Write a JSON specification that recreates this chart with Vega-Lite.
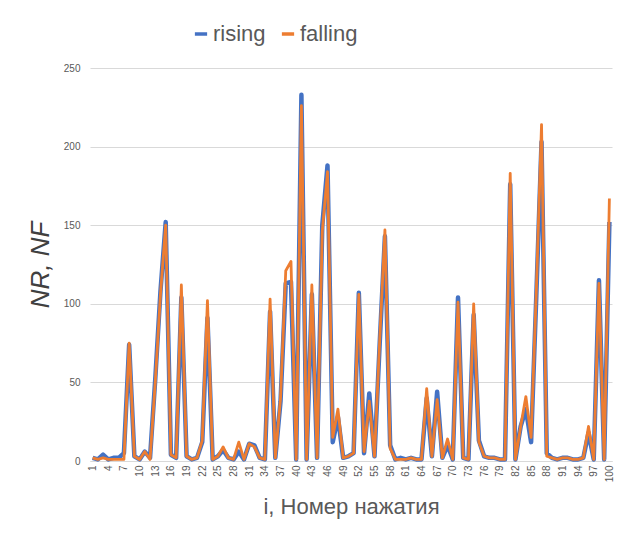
{
  "$schema": "https://vega.github.io/schema/vega-lite/v6.json",
  "width": 522,
  "height": 393,
  "autosize": "none",
  "padding": {"left": 90, "top": 68, "right": 20, "bottom": 72},
  "background": "white",
  "config": {"view": {"stroke": null}, "font": "Liberation Sans"},
  "data": {"values": [
    {"i":1,"rising":2,"falling":2},{"i":2,"rising":1,"falling":1},{"i":3,"rising":4,"falling":2},{"i":4,"rising":1,"falling":1},{"i":5,"rising":2,"falling":1},
    {"i":6,"rising":2,"falling":1},{"i":7,"rising":5,"falling":1},{"i":8,"rising":74,"falling":75},{"i":9,"rising":3,"falling":3},{"i":10,"rising":1,"falling":1},
    {"i":11,"rising":6,"falling":6},{"i":12,"rising":2,"falling":1},{"i":13,"rising":52,"falling":50},{"i":14,"rising":108,"falling":106},{"i":15,"rising":152,"falling":150},
    {"i":16,"rising":4,"falling":4},{"i":17,"rising":2,"falling":2},{"i":18,"rising":104,"falling":112},{"i":19,"rising":3,"falling":3},{"i":20,"rising":1,"falling":1},
    {"i":21,"rising":2,"falling":2},{"i":22,"rising":12,"falling":13},{"i":23,"rising":91,"falling":102},{"i":24,"rising":1,"falling":1},{"i":25,"rising":3,"falling":3},
    {"i":26,"rising":7,"falling":9},{"i":27,"rising":2,"falling":2},{"i":28,"rising":1,"falling":1},{"i":29,"rising":6,"falling":12},{"i":30,"rising":1,"falling":1},
    {"i":31,"rising":11,"falling":11},{"i":32,"rising":10,"falling":9},{"i":33,"rising":2,"falling":2},{"i":34,"rising":1,"falling":1},{"i":35,"rising":95,"falling":103},
    {"i":36,"rising":2,"falling":2},{"i":37,"rising":38,"falling":40},{"i":38,"rising":113,"falling":121},{"i":39,"rising":114,"falling":127},{"i":40,"rising":1,"falling":1},
    {"i":41,"rising":233,"falling":226},{"i":42,"rising":1,"falling":1},{"i":43,"rising":106,"falling":112},{"i":44,"rising":2,"falling":2},{"i":45,"rising":150,"falling":146},
    {"i":46,"rising":188,"falling":184},{"i":47,"rising":12,"falling":15},{"i":48,"rising":28,"falling":33},{"i":49,"rising":2,"falling":2},{"i":50,"rising":3,"falling":3},
    {"i":51,"rising":5,"falling":5},{"i":52,"rising":107,"falling":106},{"i":53,"rising":5,"falling":6},{"i":54,"rising":43,"falling":38},{"i":55,"rising":3,"falling":3},
    {"i":56,"rising":75,"falling":77},{"i":57,"rising":143,"falling":147},{"i":58,"rising":10,"falling":8},{"i":59,"rising":1,"falling":1},{"i":60,"rising":2,"falling":1},
    {"i":61,"rising":1,"falling":1},{"i":62,"rising":2,"falling":2},{"i":63,"rising":1,"falling":1},{"i":64,"rising":1,"falling":1},{"i":65,"rising":40,"falling":46},
    {"i":66,"rising":3,"falling":3},{"i":67,"rising":44,"falling":39},{"i":68,"rising":2,"falling":2},{"i":69,"rising":10,"falling":14},{"i":70,"rising":1,"falling":1},
    {"i":71,"rising":104,"falling":101},{"i":72,"rising":2,"falling":2},{"i":73,"rising":1,"falling":1},{"i":74,"rising":93,"falling":100},{"i":75,"rising":13,"falling":12},
    {"i":76,"rising":3,"falling":3},{"i":77,"rising":2,"falling":2},{"i":78,"rising":2,"falling":2},{"i":79,"rising":1,"falling":1},{"i":80,"rising":1,"falling":1},
    {"i":81,"rising":176,"falling":183},{"i":82,"rising":1,"falling":1},{"i":83,"rising":22,"falling":22},{"i":84,"rising":33,"falling":41},{"i":85,"rising":12,"falling":15},
    {"i":86,"rising":105,"falling":108},{"i":87,"rising":203,"falling":214},{"i":88,"rising":5,"falling":3},{"i":89,"rising":2,"falling":2},{"i":90,"rising":1,"falling":1},
    {"i":91,"rising":2,"falling":2},{"i":92,"rising":2,"falling":2},{"i":93,"rising":1,"falling":1},{"i":94,"rising":1,"falling":1},{"i":95,"rising":2,"falling":2},
    {"i":96,"rising":18,"falling":22},{"i":97,"rising":1,"falling":1},{"i":98,"rising":115,"falling":113},{"i":99,"rising":1,"falling":1},{"i":100,"rising":152,"falling":167}
  ]},
  "transform": [{"fold": ["rising", "falling"], "as": ["series", "n"]}],
  "encoding": {
    "x": {
      "field": "i", "type": "quantitative",
      "scale": {"domain": [0.5, 100.5], "nice": false, "zero": false},
      "axis": {
        "values": [1,4,7,10,13,16,19,22,25,28,31,34,37,40,43,46,49,52,55,58,61,64,67,70,73,76,79,82,85,88,91,94,97,100],
        "labelAngle": 270, "labelAlign": "right", "labelBaseline": "middle",
        "labelFontSize": 10, "labelColor": "#595959", "labelPadding": 4, "labelFlush": false, "labelOverlap": false,
        "ticks": false, "grid": false, "domain": true, "domainColor": "#d9d9d9",
        "title": "i, Номер нажатия", "titleFontSize": 22, "titleFontWeight": "normal", "titleColor": "#595959", "titlePadding": 15
      }
    },
    "y": {
      "field": "n", "type": "quantitative",
      "scale": {"domain": [0, 250], "nice": false},
      "axis": {
        "values": [0, 50, 100, 150, 200, 250],
        "labelFontSize": 10, "labelColor": "#595959", "labelPadding": 10,
        "ticks": false, "domain": false, "grid": true, "gridColor": "#d9d9d9",
        "title": "NR, NF", "titleFontSize": 26, "titleFontStyle": "italic", "titleFontWeight": "normal", "titleColor": "#404040", "titlePadding": 10
      }
    },
    "color": {
      "field": "series", "type": "nominal",
      "scale": {"domain": ["rising", "falling"], "range": ["#4472C4", "#ED7D31"]},
      "legend": {
        "orient": "none", "legendX": 100, "legendY": -45, "direction": "horizontal",
        "title": null, "symbolType": "stroke", "symbolStrokeWidth": 3.5, "symbolSize": 150,
        "labelFontSize": 22, "labelColor": "#595959", "labelOffset": 1, "columnPadding": 8
      }
    }
  },
  "layer": [
    {"transform": [{"filter": "datum.series === 'rising'"}], "mark": {"type": "line", "strokeWidth": 4.5, "strokeJoin": "round"}},
    {"transform": [{"filter": "datum.series === 'falling'"}], "mark": {"type": "line", "strokeWidth": 2.8, "strokeJoin": "round"}}
  ]
}
